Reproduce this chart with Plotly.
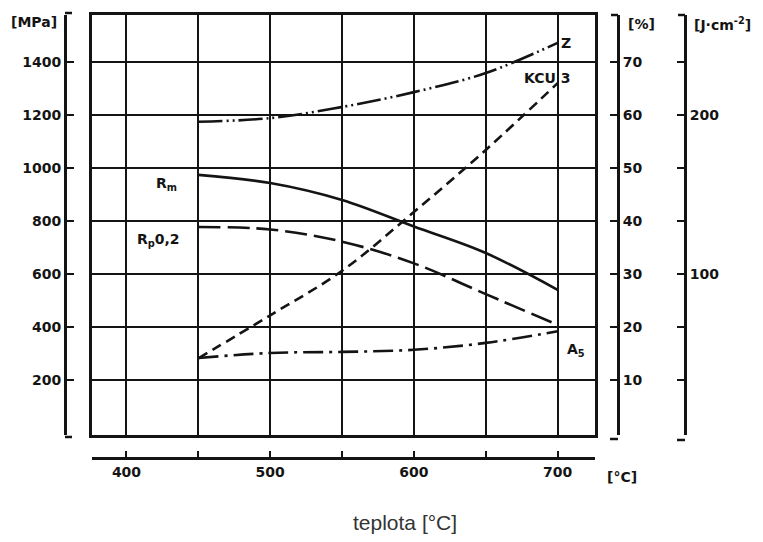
import plotly.graph_objects as go

# ---- data ----
temps = [450, 500, 550, 600, 650, 700]              # °C
rm_mpa = [974, 943, 879, 779, 679, 540]             # R_m [MPa]
rp02_mpa = [777, 768, 722, 640, 524, 408]           # R_p0,2 [MPa]
z_pct = [58.7, 59.4, 61.5, 64.3, 67.9, 73.6]        # Z [%]
a5_pct = [14.15, 15.1, 15.3, 15.7, 17.0, 19.2]      # A_5 [%]
kcu_j = [47, 74, 102, 139, 178, 220]                # KCU 3 [J·cm^-2]

temp_labels_vals = [400, 500, 600, 700]
temp_minor_vals = [376, 450, 550, 650, 726]
temp_grid = [400, 450, 500, 550, 600, 650, 700]
mpa_ticks = [200, 400, 600, 800, 1000, 1200, 1400]
pct_ticks = [10, 20, 30, 40, 50, 60, 70]
j_label_vals = [100, 200]
j_minor_vals = [100 / 3 * k for k in (1, 2, 4, 5, 7)]

X_RANGE = [376, 726]
MPA_RANGE = [-7.5, 1577]
PCT_RANGE = [v / 20 for v in MPA_RANGE]
J_RANGE = [v / 6 for v in MPA_RANGE]

W, H = 763, 542
INK = "#141414"


def px(x):
    return x / W


def py(y):
    return 1 - y / H


BOLD = dict(family="DejaVu Sans", size=14, color=INK, weight="bold")

fig = go.Figure()

fig.add_trace(go.Scatter(x=temps, y=rm_mpa, mode="lines", xaxis="x", yaxis="y",
                         line=dict(color=INK, width=2.6, shape="spline"),
                         hoverinfo="skip", showlegend=False))
fig.add_trace(go.Scatter(x=temps, y=rp02_mpa, mode="lines", xaxis="x", yaxis="y",
                         line=dict(color=INK, width=2.6, shape="spline", dash="22px,7px"),
                         hoverinfo="skip", showlegend=False))
fig.add_trace(go.Scatter(x=temps, y=z_pct, mode="lines", xaxis="x", yaxis="y3",
                         line=dict(color=INK, width=2.6, shape="spline",
                                   dash="24px,4px,2px,4px,2px,4px"),
                         hoverinfo="skip", showlegend=False))
fig.add_trace(go.Scatter(x=temps, y=a5_pct, mode="lines", xaxis="x", yaxis="y3",
                         line=dict(color=INK, width=2.6, shape="spline",
                                   dash="20px,6px,3px,6px"),
                         hoverinfo="skip", showlegend=False))
fig.add_trace(go.Scatter(x=temps, y=kcu_j, mode="lines", xaxis="x", yaxis="y4",
                         line=dict(color=INK, width=2.6, shape="spline", dash="10px,6px"),
                         hoverinfo="skip", showlegend=False))
# helper (invisible) trace so the detached axes are drawn
fig.add_trace(go.Scatter(x=temps, y=rm_mpa, mode="lines", xaxis="x2", yaxis="y2",
                         line=dict(color="rgba(0,0,0,0)", width=0),
                         hoverinfo="skip", showlegend=False))

common_line = dict(showline=True, linecolor=INK, zeroline=False)
minor_style = dict(ticks="inside", ticklen=7, tickwidth=2, tickcolor=INK, showgrid=False)

fig.update_layout(
    width=W, height=H,
    margin=dict(l=0, r=0, t=0, b=0),
    paper_bgcolor="white", plot_bgcolor="white",
    showlegend=False,
    xaxis=dict(domain=[px(92), px(595)], range=X_RANGE, tickvals=temp_grid,
               showticklabels=False, ticks="", showgrid=True, gridcolor=INK,
               gridwidth=2, mirror=True, linewidth=3, **common_line),
    yaxis=dict(domain=[py(435), py(15)], range=MPA_RANGE, tickvals=mpa_ticks,
               showticklabels=False, ticks="", showgrid=True, gridcolor=INK,
               gridwidth=2, mirror=True, linewidth=3, **common_line),
    xaxis2=dict(overlaying="x", anchor="free", position=py(458), side="bottom",
                range=X_RANGE, tickvals=temp_labels_vals, ticks="inside", ticklen=6,
                tickwidth=2, tickcolor=INK, showgrid=False, linewidth=2.5,
                minor=dict(tickvals=temp_minor_vals, ticks="inside", ticklen=6,
                           tickwidth=2, tickcolor=INK, showgrid=False),
                tickfont=BOLD, **common_line),
    yaxis2=dict(overlaying="y", anchor="free", position=px(65), side="left",
                range=MPA_RANGE, tickvals=mpa_ticks, ticks="inside", ticklen=7,
                tickwidth=2, tickcolor=INK, showgrid=False, linewidth=3,
                tickfont=BOLD, **common_line),
    yaxis3=dict(overlaying="y", anchor="free", position=px(618), side="right",
                range=PCT_RANGE, tickvals=pct_ticks, ticks="inside", ticklen=7,
                tickwidth=2, tickcolor=INK, showgrid=False, linewidth=3,
                tickfont=BOLD, **common_line),
    yaxis4=dict(overlaying="y", anchor="free", position=px(685), side="right",
                range=J_RANGE, tickvals=j_label_vals, ticks="inside",
                ticklen=7, tickwidth=2, tickcolor=INK, showgrid=False, linewidth=3,
                minor=dict(tickvals=j_minor_vals, **minor_style),
                tickfont=BOLD, **common_line),
)

# axis end brackets
brackets = [
    (65, 13, 72, 13), (65, 437, 72, 437),
    (611, 15, 618, 15), (610, 439, 618, 439),
    (678, 15, 685, 15), (677, 440, 685, 440),
]
for x0, y0, x1, y1 in brackets:
    fig.add_shape(type="line", xref="paper", yref="paper",
                  x0=px(x0), y0=py(y0), x1=px(x1), y1=py(y1),
                  line=dict(color=INK, width=2.5))

labels = [
    ("[MPa]", 34, 22),
    ("[%]", 641, 24),
    ("[J·cm<sup>-2</sup>]", 722, 24),
    ("[°C]", 622, 477),
    ("R<sub>m</sub>", 166, 184),
    ("R<sub>p</sub>0,2", 158, 240),
    ("KCU 3", 547, 78),
    ("Z", 566, 43),
    ("A<sub>5</sub>", 576, 350),
]
for text, x, y in labels:
    fig.add_annotation(text=text, xref="paper", yref="paper", x=px(x), y=py(y),
                       showarrow=False, xanchor="center", yanchor="middle",
                       font=BOLD)

fig.add_annotation(text="teplota [°C]", xref="paper", yref="paper",
                   x=px(405), y=py(522), showarrow=False, xanchor="center",
                   yanchor="middle",
                   font=dict(family="Liberation Sans", size=21, color="#333333"))

fig.write_html("out.html", config={"displayModeBar": False},
               post_script="document.body.style.margin='0';")
